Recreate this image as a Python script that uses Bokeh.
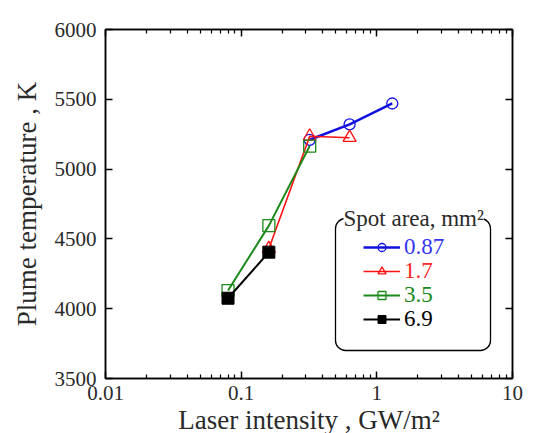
from bokeh.plotting import figure
from bokeh.models import (LogAxis, LinearAxis, FixedTicker, CustomJSTickFormatter, Range1d,
                          Legend, LegendItem, BoxAnnotation, Label)
from bokeh.embed import file_html
from bokeh.resources import INLINE

# ---- data ----
x_ticks = [0.01, 0.1, 1, 10]
x_minor = [0.02, 0.03, 0.04, 0.05, 0.06, 0.07, 0.08, 0.09,
           0.2, 0.3, 0.4, 0.5, 0.6, 0.7, 0.8, 0.9,
           2, 3, 4, 5, 6, 7, 8, 9]
y_ticks = [3500, 4000, 4500, 5000, 5500, 6000]

series_names = ["0.87", "1.7", "3.5", "6.9"]
x_087 = [0.32, 0.63, 1.3]
y_087 = [5210, 5320, 5470]
x_17 = [0.16, 0.32, 0.63]
y_17 = [4430, 5235, 5225]
x_35 = [0.08, 0.16, 0.32]
y_35 = [4130, 4595, 5165]
x_69 = [0.08, 0.16]
y_69 = [4075, 4405]

FONT = "Liberation Serif"

p = figure(x_axis_type="log", x_range=Range1d(x_ticks[0], x_ticks[-1]),
           y_range=Range1d(y_ticks[0], y_ticks[-1]),
           frame_width=407, frame_height=349,
           min_border_left=105, min_border_top=29, min_border_right=26, min_border_bottom=10,
           output_backend="svg", toolbar_location=None)
p.xgrid.visible = False
p.ygrid.visible = False
p.outline_line_color = "black"
p.outline_line_width = 1.5
p.background_fill_color = "white"
p.border_fill_color = "white"

xt = FixedTicker(ticks=x_ticks, minor_ticks=x_minor)
yt = FixedTicker(ticks=y_ticks, minor_ticks=[])
blank = CustomJSTickFormatter(code="return '';")

def style(ax):
    ax.axis_line_color = "black"
    ax.axis_line_width = 1.5
    ax.major_tick_in = 7
    ax.major_tick_out = 0
    ax.minor_tick_in = 4
    ax.minor_tick_out = 0
    ax.major_tick_line_color = "black"
    ax.minor_tick_line_color = "black"
    ax.major_tick_line_width = 1.5
    ax.minor_tick_line_width = 1.2
    ax.major_label_text_font = FONT
    ax.major_label_text_font_size = "21px"
    ax.major_label_text_color = "#2a2a2a"
    ax.axis_label_text_font = FONT
    ax.axis_label_text_font_size = "27px"
    ax.axis_label_text_font_style = "normal"
    ax.axis_label_text_color = "#2a2a2a"

xa = p.xaxis[0]
xa.ticker = xt
xa.formatter = CustomJSTickFormatter(code="return String(tick);")
xa.axis_label = "Laser intensity , GW/m²"
style(xa)
xa.major_label_standoff = 7
xa.axis_label_standoff = 2

ya = p.yaxis[0]
ya.ticker = yt
ya.axis_label = "Plume temperature , K"
style(ya)
ya.major_label_standoff = 9
ya.axis_label_standoff = 10

top = LogAxis(ticker=xt, formatter=blank)
style(top)
top.major_label_standoff = 0
p.add_layout(top, "above")
right = LinearAxis(ticker=yt, formatter=blank)
style(right)
right.major_label_standoff = 0
p.add_layout(right, "right")

# ---- series ----
r_b_l = p.line(x_087, y_087, line_color="#1010e0", line_width=2.5)
r_b_m = p.scatter(x_087, y_087, marker="circle", size=11, line_color="#1010e0",
                  fill_alpha=0, line_width=1.3)
r_r_l = p.line(x_17, y_17, line_color="#ff1010", line_width=1.6)
r_r_m = p.scatter(x_17, y_17, marker="triangle", size=13, line_color="#ff1010",
                  fill_alpha=0, line_width=1.3)
r_g_l = p.line(x_35, y_35, line_color="#1a8a1a", line_width=2)
r_g_m = p.scatter(x_35, y_35, marker="square", size=12, line_color="#1a8a1a",
                  fill_alpha=0, line_width=1.3)
r_k_l = p.line(x_69, y_69, line_color="black", line_width=2)
r_k_m = p.scatter(x_69, y_69, marker="square", size=12, line_color="black",
                  fill_color="black", line_width=1)

# ---- legend box ----
box = BoxAnnotation(left=230, right=385, top=160, bottom=28,
                    left_units="screen", right_units="screen",
                    top_units="screen", bottom_units="screen",
                    fill_alpha=0, line_color="black", line_alpha=1, line_width=1.3,
                    border_radius=10)
p.add_layout(box)
title = Label(x=238, y=160, x_units="screen", y_units="screen",
              text="Spot area, mm²", text_font=FONT, text_font_size="23px",
              text_color="#2a2a2a", text_baseline="middle",
              background_fill_color="white")
p.add_layout(title)

label_colors = ["#3535f0", "#ff2828", "#1a8a1a", "black"]
rend = [[r_b_l, r_b_m], [r_r_l, r_r_m], [r_g_l, r_g_m], [r_k_l, r_k_m]]
for i, (name, col, rr) in enumerate(zip(series_names, label_colors, rend)):
    lg = Legend(items=[LegendItem(label=name, renderers=rr)],
                location=(258, 118 - 24 * i), margin=0, padding=0,
                glyph_width=37, glyph_height=20, label_height=20, label_standoff=4,
                label_text_font=FONT, label_text_font_size="23px",
                label_text_color=col, background_fill_alpha=0,
                border_line_color=None)
    p.add_layout(lg, "center")

open("out.html", "w").write(file_html(p, INLINE))
